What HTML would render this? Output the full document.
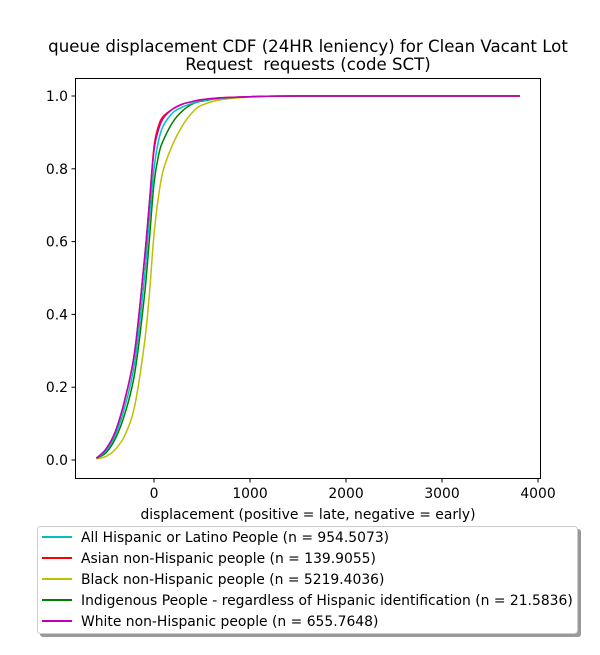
<!DOCTYPE html>
<html><head><meta charset="utf-8"><style>
body{margin:0;background:#fff;}
svg text{font-family:"DejaVu Sans","Liberation Sans",sans-serif;fill:#000;}
</style></head><body>
<svg id="chart" width="600" height="650" xmlns="http://www.w3.org/2000/svg">
<rect x="0" y="0" width="600" height="650" fill="#fff"/>
<text x="308" y="52" font-size="16.6" text-anchor="middle">queue displacement CDF (24HR leniency) for Clean Vacant Lot</text>
<text x="308" y="70" font-size="16.6" text-anchor="middle">Request&#160; requests (code SCT)</text>
<g id="series"></g>
<rect x="75.5" y="78.5" width="465" height="400" fill="none" stroke="#000" stroke-width="1"/>
<g id="xticks"></g>
<g id="yticks"></g>
<text x="308" y="519" font-size="13.9" text-anchor="middle">displacement (positive = late, negative = early)</text>
<rect x="40" y="529" width="541" height="108" rx="3" fill="#999"/>
<rect x="37.5" y="526.5" width="540" height="107" rx="3" fill="#fff" stroke="#ccc"/>
<g id="legend"></g>
</svg>
<script>
const xs=[-600,-500,-400,-300,-200,-100,-50,0,50,100,200,300,400,500,700,1000,1500,3810];
const hispanic=[0.005,0.025,0.07,0.15,0.27,0.5,0.66,0.8,0.88,0.92,0.955,0.97,0.98,0.987,0.994,0.998,1,1];
const asian=[0.005,0.03,0.08,0.17,0.3,0.55,0.7,0.86,0.92,0.945,0.965,0.978,0.985,0.99,0.995,0.998,1,1];
const black=[0.003,0.01,0.03,0.07,0.15,0.32,0.45,0.62,0.73,0.8,0.87,0.92,0.955,0.975,0.99,0.997,1,1];
const indigenous=[0.005,0.02,0.06,0.13,0.24,0.45,0.6,0.76,0.84,0.88,0.93,0.96,0.978,0.986,0.994,0.998,1,1];
const white=[0.005,0.03,0.08,0.17,0.3,0.55,0.7,0.85,0.91,0.94,0.965,0.978,0.985,0.99,0.995,0.998,1,1];
const labels=["All Hispanic or Latino People (n = 954.5073)","Asian non-Hispanic people (n = 139.9055)","Black non-Hispanic people (n = 5219.4036)","Indigenous People - regardless of Hispanic identification (n = 21.5836)","White non-Hispanic people (n = 655.7648)"];
const colors=["#00bfbf","#ff0000","#bfbf00","#008000","#bf00bf"];
const xTicks=[0,1000,2000,3000,4000];
const yTicks=[0,0.2,0.4,0.6,0.8,1.0];
const X=v=>154+v*0.096, Y=v=>460-v*364;
const NS="http://www.w3.org/2000/svg";
const sg=document.getElementById('series');
const order=[black,indigenous,hispanic,asian,white], oc=[2,3,0,1,4];
function smooth(s){
  const P=xs.map((x,i)=>[X(x),Y(s[i])]);
  let d='M'+P[0][0].toFixed(1)+' '+P[0][1].toFixed(1);
  for(let i=0;i<P.length-1;i++){
    const p0=P[i-1]||P[i],p1=P[i],p2=P[i+1],p3=P[i+2]||p2;
    const c1=[p1[0]+(p2[0]-p0[0])/6,p1[1]+(p2[1]-p0[1])/6];
    const c2=[p2[0]-(p3[0]-p1[0])/6,p2[1]-(p3[1]-p1[1])/6];
    d+='C'+c1.map(v=>v.toFixed(1)).join(' ')+' '+c2.map(v=>v.toFixed(1)).join(' ')+' '+p2[0].toFixed(1)+' '+p2[1].toFixed(1);
  }
  return d;
}
order.forEach((s,k)=>{const p=document.createElementNS(NS,'path');
p.setAttribute('d',smooth(s));
p.setAttribute('fill','none');p.setAttribute('stroke',colors[oc[k]]);p.setAttribute('stroke-width','1.5');p.setAttribute('stroke-linejoin','round');


sg.appendChild(p);});
const xg=document.getElementById('xticks');
xTicks.forEach(t=>{const l=document.createElementNS(NS,'line');l.setAttribute('x1',X(t));l.setAttribute('x2',X(t));l.setAttribute('y1',478.5);l.setAttribute('y2',482.5);l.setAttribute('stroke','#000');


xg.appendChild(l);
const tx=document.createElementNS(NS,'text');tx.setAttribute('x',X(t));tx.setAttribute('y',498);tx.setAttribute('font-size','13.9');tx.setAttribute('text-anchor','middle');tx.textContent=t;


xg.appendChild(tx);});
const yg=document.getElementById('yticks');
yTicks.forEach(t=>{const l=document.createElementNS(NS,'line');l.setAttribute('x1',71.5);l.setAttribute('x2',75.5);l.setAttribute('y1',Y(t));l.setAttribute('y2',Y(t));l.setAttribute('stroke','#000');


yg.appendChild(l);
const tx=document.createElementNS(NS,'text');tx.setAttribute('x',68);tx.setAttribute('y',Y(t)+5);tx.setAttribute('font-size','13.9');tx.setAttribute('text-anchor','end');tx.textContent=t.toFixed(1);


yg.appendChild(tx);});
const lg=document.getElementById('legend');
labels.forEach((lab,i)=>{const y=537+i*21;const l=document.createElementNS(NS,'line');l.setAttribute('x1',42);l.setAttribute('x2',72);l.setAttribute('y1',y);l.setAttribute('y2',y);l.setAttribute('stroke',colors[i]);l.setAttribute('stroke-width','2');


lg.appendChild(l);
const tx=document.createElementNS(NS,'text');tx.setAttribute('x',81);tx.setAttribute('y',y+5);tx.setAttribute('font-size','13.9');tx.textContent=lab;


lg.appendChild(tx);});
</script>
</body></html>
